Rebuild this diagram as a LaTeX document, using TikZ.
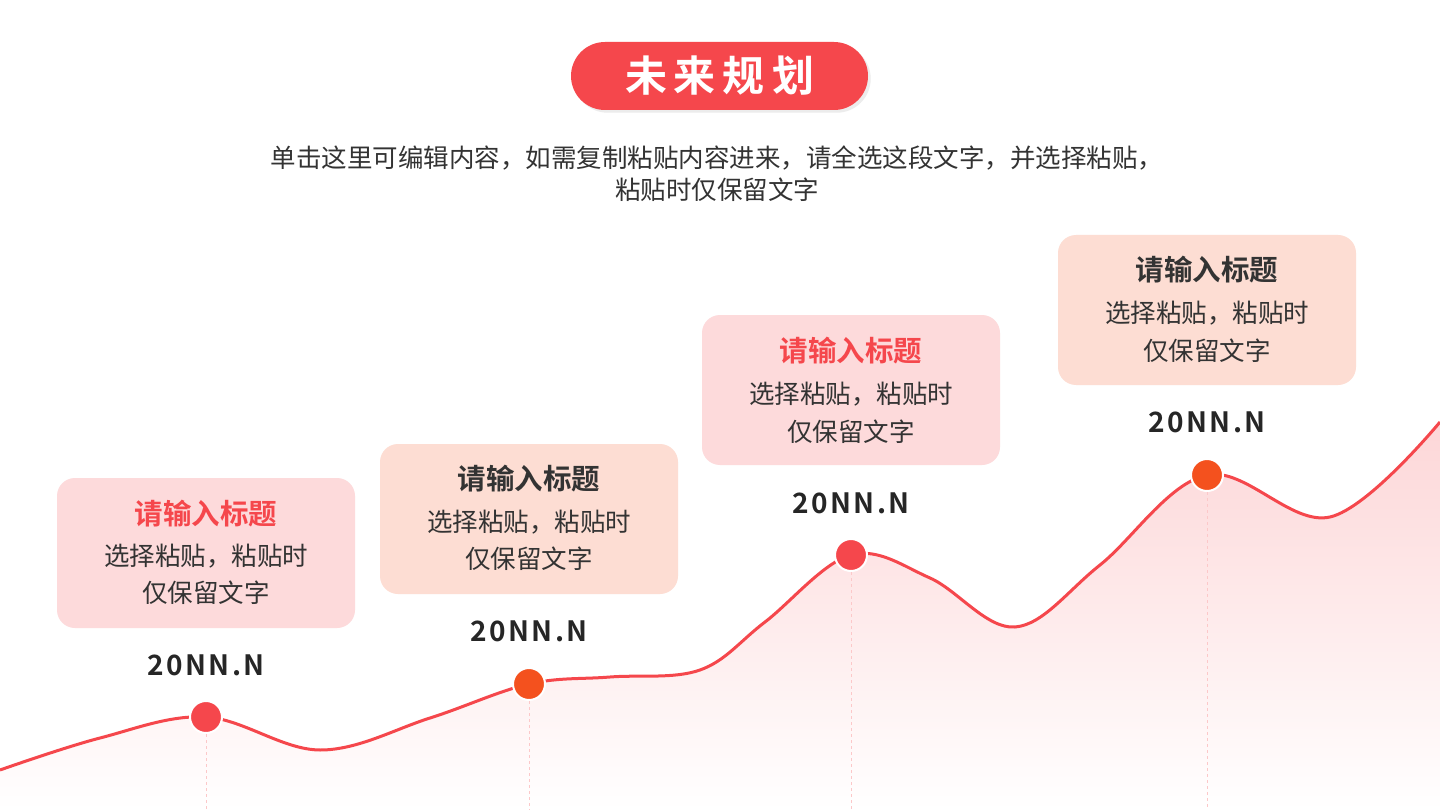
\documentclass[tikz,border=0pt]{standalone}
\usepackage{fontspec}
\setmainfont{Noto Sans CJK SC}
\newfontfamily\cjkb{Noto Sans CJK SC Bold}
\newfontfamily\datef[LetterSpace=9]{Noto Sans CJK SC Bold}
\usetikzlibrary{shadows}
\definecolor{mred}{HTML}{F5474C}
\definecolor{morange}{HTML}{F4511E}
\definecolor{bpink}{HTML}{FDDADB}
\definecolor{bpeach}{HTML}{FDDDD3}
\definecolor{tdark}{HTML}{333333}
\tikzset{
 card/.style={rounded corners=18pt,draw=none,minimum width=298pt,minimum height=150pt},
 ttl/.style={font=\fontsize{28.5}{32}\selectfont\cjkb},
 body/.style={font=\fontsize{25.5}{30}\selectfont,text=tdark},
 date/.style={font=\fontsize{28}{32}\selectfont\datef,text=black!85},
 dot/.style={circle,minimum size=32pt,inner sep=0pt,draw=white,line width=2pt},
 vline/.style={dashed,draw=mred!30,line width=0.8pt}
}
\begin{document}
\begin{tikzpicture}[x=1pt,y=-1pt]
\useasboundingbox (0,0) rectangle (1440,810);
\fill[white] (0,0) rectangle (1440,810);
\def\curvepts{(0,770) (100,738) (206,717) (320,750) (430,718) (529,684) (610,677) (700,670) (765,622) (851,555) (930,578) (1015,627) (1100,565) (1207,475) (1330,517) (1440,422)}
\shade[top color=mred!22,bottom color=white] plot[smooth,tension=0.6] coordinates {\curvepts} -- (1440,810) -- (0,810) -- cycle;
\draw[mred,line width=3pt] plot[smooth,tension=0.6] coordinates {\curvepts};
\node[fill=mred,rounded corners=34pt,minimum width=297pt,minimum height=68pt,text=white,font=\fontsize{42}{46}\selectfont\cjkb,drop shadow={opacity=0.15}] (title) at (719.5,76) {未\,来\,规\,划};
\node[body,align=center,font=\fontsize{25.5}{32}\selectfont] (sub) at (717,174) {单击这里可编辑内容，如需复制粘贴内容进来，请全选这段文字，并选择粘贴，\\粘贴时仅保留文字};
\node[card,fill=bpink] (c1) at (206,553) {};
\node[ttl,text=mred] (t1) at (206,514) {请输入标题};
\node[body] (b1a) at (206,556) {选择粘贴，粘贴时};
\node[body] (b1b) at (206,593) {仅保留文字};
\node[date] (d1) at (206,665) {20NN.N};
\node[card,fill=bpeach] (c2) at (529,519) {};
\node[ttl,text=tdark] (t2) at (529,479) {请输入标题};
\node[body] (b2a) at (529,522) {选择粘贴，粘贴时};
\node[body] (b2b) at (529,559) {仅保留文字};
\node[date] (d2) at (529,631) {20NN.N};
\node[card,fill=bpink] (c3) at (851,390) {};
\node[ttl,text=mred] (t3) at (851,351) {请输入标题};
\node[body] (b3a) at (851,394) {选择粘贴，粘贴时};
\node[body] (b3b) at (851,432) {仅保留文字};
\node[date] (d3) at (851,503) {20NN.N};
\node[card,fill=bpeach] (c4) at (1207,310) {};
\node[ttl,text=tdark] (t4) at (1207,270) {请输入标题};
\node[body] (b4a) at (1207,313) {选择粘贴，粘贴时};
\node[body] (b4b) at (1207,351) {仅保留文字};
\node[date] (d4) at (1207,422) {20NN.N};
\coordinate (e1) at (206,810);\coordinate (e2) at (529,810);\coordinate (e3) at (851,810);\coordinate (e4) at (1207,810);
\node[dot,fill=mred] (p1) at (206,717) {};
\node[dot,fill=morange] (p2) at (529,684) {};
\node[dot,fill=mred] (p3) at (851,555) {};
\node[dot,fill=morange] (p4) at (1207,475) {};
\draw[vline] (p1) -- (e1);\draw[vline] (p2) -- (e2);\draw[vline] (p3) -- (e3);\draw[vline] (p4) -- (e4);
\end{tikzpicture}
\end{document}
